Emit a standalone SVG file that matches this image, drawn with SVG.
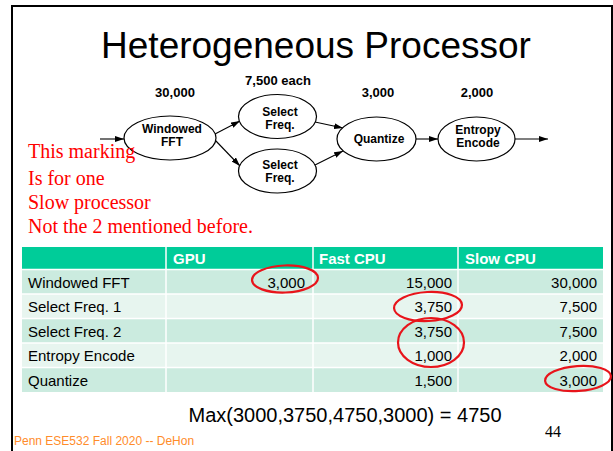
<svg xmlns="http://www.w3.org/2000/svg" width="613" height="451" viewBox="0 0 613 451">
  <style>
    .title { font-family: "Liberation Sans", Arial, sans-serif; font-size: 37px; fill: #000; }
    .node { fill: #fff; stroke: #000; stroke-width: 1.2; }
    .ntext { font-family: "Liberation Sans", Arial, sans-serif; font-size: 12px; font-weight: bold; fill: #000; text-anchor: middle; }
    .cost { font-family: "Liberation Sans", Arial, sans-serif; font-size: 13px; font-weight: bold; fill: #000; text-anchor: middle; }
    .edge { stroke: #000; stroke-width: 1.1; fill: none; marker-end: url(#arrow); }
    .note { font-family: "Liberation Serif", "Times New Roman", serif; font-size: 20px; fill: #FF0000; }
    .cell { font-family: "Liberation Sans", Arial, sans-serif; font-size: 15px; fill: #000; }
    .num { text-anchor: end; }
    .head { font-family: "Liberation Sans", Arial, sans-serif; font-size: 15px; font-weight: bold; fill: #fff; }
    .mark { fill: none; stroke: #E8141B; stroke-width: 2.2; }
    .band1 { fill: #CBEBDF; }
    .band2 { fill: #E7F5EF; }
  </style>
  <defs>
    <marker id="arrow" markerUnits="userSpaceOnUse" markerWidth="9" markerHeight="6" refX="9" refY="3" orient="auto">
      <path d="M0,0 L9,3 L0,6 z" fill="#000"/>
    </marker>
  </defs>

  <rect width="613" height="451" fill="#fff"/>

  <!-- slide frame -->
  <path d="M12,451 V6 H612 V451" fill="none" stroke="#000" stroke-width="2"/>

  <text class="title" x="316" y="58" text-anchor="middle">Heterogeneous Processor</text>

  <!-- cost labels -->
  <text class="cost" x="175" y="97">30,000</text>
  <text class="cost" x="278" y="85">7,500 each</text>
  <text class="cost" x="378" y="97">3,000</text>
  <text class="cost" x="477" y="97">2,000</text>

  <!-- connectors -->
  <g id="connectors">
    <line class="edge" x1="100" y1="139" x2="124" y2="139"/>
    <line class="edge" x1="215" y1="134" x2="240" y2="121"/>
    <line class="edge" x1="215" y1="140" x2="240" y2="166"/>
    <line class="edge" x1="315" y1="122" x2="343" y2="128"/>
    <line class="edge" x1="315" y1="165" x2="343" y2="151"/>
    <line class="edge" x1="416" y1="139" x2="438" y2="139"/>
    <line class="edge" x1="515" y1="139" x2="548" y2="139"/>
  </g>

  <!-- nodes -->
  <g id="fft">
    <ellipse class="node" cx="170" cy="138" rx="46" ry="22"/>
    <text class="ntext" x="172" y="132.5">Windowed</text>
    <text class="ntext" x="172" y="145.5">FFT</text>
  </g>
  <g id="select1">
    <ellipse class="node" cx="277.5" cy="116.5" rx="39" ry="22"/>
    <text class="ntext" x="280" y="115.5">Select</text>
    <text class="ntext" x="280" y="128.5">Freq.</text>
  </g>
  <g id="select2">
    <ellipse class="node" cx="277.5" cy="171" rx="39" ry="22"/>
    <text class="ntext" x="280" y="168.5">Select</text>
    <text class="ntext" x="280" y="181.5">Freq.</text>
  </g>
  <g id="quantize">
    <ellipse class="node" cx="376.5" cy="139" rx="39.5" ry="22"/>
    <text class="ntext" x="379" y="143">Quantize</text>
  </g>
  <g id="entropy">
    <ellipse class="node" cx="476.5" cy="139" rx="38.5" ry="22"/>
    <text class="ntext" x="478" y="134">Entropy</text>
    <text class="ntext" x="478" y="147">Encode</text>
  </g>

  <!-- annotation -->
  <text class="note" x="28" y="158">This marking</text>
  <text class="note" x="28" y="185">Is for one</text>
  <text class="note" x="28" y="209">Slow processor</text>
  <text class="note" x="28" y="233">Not the 2 mentioned before.</text>

  <!-- table -->
  <g id="table">
    <rect x="22" y="247" width="581" height="22.5" fill="#00CC99"/>
    <rect class="band1" x="22" y="269.5" width="581" height="24.5"/>
    <rect class="band2" x="22" y="294" width="581" height="24.5"/>
    <rect class="band1" x="22" y="318.5" width="581" height="24.5"/>
    <rect class="band2" x="22" y="343" width="581" height="24.5"/>
    <rect class="band1" x="22" y="367.5" width="581" height="24.5"/>
    <g stroke="#fff" stroke-width="1.5">
      <line x1="22" y1="269.5" x2="603" y2="269.5"/>
      <line x1="22" y1="294" x2="603" y2="294"/>
      <line x1="22" y1="318.5" x2="603" y2="318.5"/>
      <line x1="22" y1="343" x2="603" y2="343"/>
      <line x1="22" y1="367.5" x2="603" y2="367.5"/>
      <line x1="166" y1="247" x2="166" y2="392"/>
      <line x1="313" y1="247" x2="313" y2="392"/>
      <line x1="458" y1="247" x2="458" y2="392"/>
    </g>
    <text class="head" x="173" y="263.5">GPU</text>
    <text class="head" x="319" y="263.5">Fast CPU</text>
    <text class="head" x="465" y="263.5">Slow CPU</text>

    <text class="cell" x="28" y="287.5">Windowed FFT</text>
    <text class="cell" x="28" y="312">Select Freq. 1</text>
    <text class="cell" x="28" y="336.5">Select Freq. 2</text>
    <text class="cell" x="28" y="361">Entropy Encode</text>
    <text class="cell" x="28" y="385.5">Quantize</text>

    <text class="cell num" x="305" y="287.5">3,000</text>
    <text class="cell num" x="452" y="287.5">15,000</text>
    <text class="cell num" x="597" y="287.5">30,000</text>
    <text class="cell num" x="452" y="312">3,750</text>
    <text class="cell num" x="597" y="312">7,500</text>
    <text class="cell num" x="452" y="336.5">3,750</text>
    <text class="cell num" x="597" y="336.5">7,500</text>
    <text class="cell num" x="452" y="361">1,000</text>
    <text class="cell num" x="597" y="361">2,000</text>
    <text class="cell num" x="452" y="385.5">1,500</text>
    <text class="cell num" x="597" y="385.5">3,000</text>
  </g>

  <!-- hand-drawn highlight rings -->
  <g id="marks">
    <ellipse class="mark" cx="285" cy="279" rx="33" ry="13.5" transform="rotate(-2 285 279)"/>
    <ellipse class="mark" cx="428" cy="306.5" rx="34" ry="14.5" transform="rotate(-3 428 306.5)"/>
    <ellipse class="mark" cx="431" cy="342.5" rx="33" ry="24.5"/>
    <ellipse class="mark" cx="578" cy="378.5" rx="33" ry="12.5" transform="rotate(-4 578 378.5)"/>
  </g>

  <text x="345" y="422" text-anchor="middle" font-family="Liberation Sans, Arial, sans-serif" font-size="20" fill="#000">Max(3000,3750,4750,3000) = 4750</text>
  <text x="545" y="437" font-family="Liberation Serif, Times New Roman, serif" font-size="16" fill="#000">44</text>
  <text x="14" y="445" font-family="Liberation Sans, Arial, sans-serif" font-size="12" fill="#FF8C2A">Penn ESE532 Fall 2020 -- DeHon</text>
</svg>
